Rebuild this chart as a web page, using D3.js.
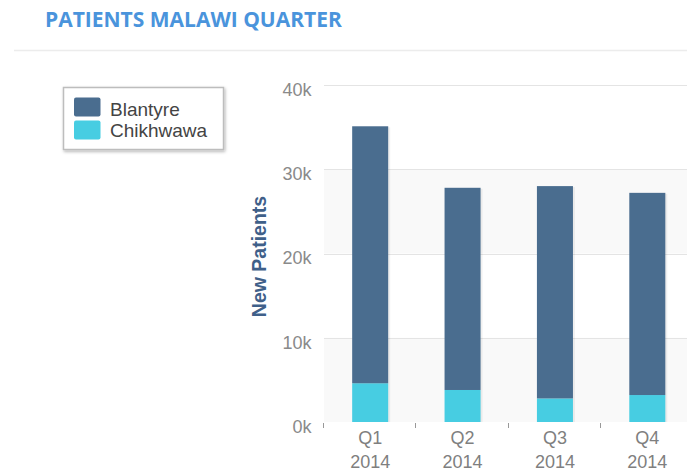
<!DOCTYPE html>
<html>
<head>
<meta charset="utf-8">
<script src="https://cdn.jsdelivr.net/npm/d3@7"></script>
<style>
  html, body { margin: 0; padding: 0; background: #fff; }
  svg { display: block; }
</style>
</head>
<body>
<svg id="chart" width="687" height="472"></svg>
<script>
// Quarterly new patients per district (stacked)
const quarters = ["Q1", "Q2", "Q3", "Q4"];
const years = ["2014", "2014", "2014", "2014"];
const seriesNames = ["Blantyre", "Chikhwawa"];
const blantyre = [30500, 24000, 25200, 24000];
const chikhwawa = [4600, 3800, 2800, 3200];
const yTicks = [0, 10000, 20000, 30000, 40000];
const colors = ["#4a6d8f", "#47cde2"];

const svg = d3.select("#chart");
const font = "'Helvetica Neue', Helvetica, Arial, 'Liberation Sans', sans-serif";

// Header
svg.append("text")
  .attr("x", 45).attr("y", 26.5)
  .attr("font-family", "'Open Sans', sans-serif")
  .attr("font-weight", 700)
  .attr("font-size", 21)
  .attr("fill", "#4a94dc")
  .text("PATIENTS MALAWI QUARTER");
svg.append("line")
  .attr("x1", 14).attr("x2", 687).attr("y1", 50.5).attr("y2", 50.5)
  .attr("stroke", "#ececec").attr("stroke-width", 1.5);

// Plot area
const plot = { left: 324, right: 693.5, top: 85, bottom: 422 };

const x = d3.scaleBand()
  .domain(quarters)
  .range([plot.left, plot.right])
  .paddingInner(0.61)
  .paddingOuter(0.305);

const y = d3.scaleLinear()
  .domain([0, 40000])
  .range([plot.bottom, plot.top]);

// Alternating horizontal bands
const g = svg.append("g");
for (let i = 0; i < yTicks.length - 1; i++) {
  if (i % 2 === 0) {
    g.append("rect")
      .attr("x", plot.left)
      .attr("width", 687 - plot.left)
      .attr("y", y(yTicks[i + 1]))
      .attr("height", y(yTicks[i]) - y(yTicks[i + 1]))
      .attr("fill", "#f9f9f9");
  }
}

// Grid lines
g.selectAll("line.grid")
  .data(yTicks.slice(1))
  .join("line")
  .attr("class", "grid")
  .attr("x1", plot.left).attr("x2", 687)
  .attr("y1", d => Math.round(y(d)) + 0.5)
  .attr("y2", d => Math.round(y(d)) + 0.5)
  .attr("stroke", "#e4e4e4");

// Y axis labels
const yAxis = d3.axisLeft(y)
  .tickValues(yTicks)
  .tickSize(0)
  .tickPadding(0)
  .tickFormat(d => (d / 1000) + "k");
const ya = svg.append("g")
  .attr("transform", `translate(${plot.left - 12.5},4)`)
  .call(yAxis);
ya.select(".domain").remove();
ya.selectAll("text")
  .attr("font-family", font)
  .attr("font-size", 18)
  .attr("fill", "#8a8a8a")
  .attr("dy", "0.35em");

// Y axis title
svg.append("text")
  .attr("transform", `translate(266,256.5) rotate(-90)`)
  .attr("text-anchor", "middle")
  .attr("font-family", font)
  .attr("font-weight", 700)
  .attr("font-size", 19.5)
  .attr("fill", "#3f6089")
  .text("New Patients");

// Stacked bars
const rows = quarters.map((q, i) => ({ q, Blantyre: blantyre[i], Chikhwawa: chikhwawa[i] }));
const stack = d3.stack().keys(["Chikhwawa", "Blantyre"])(rows);
const colorOf = { Blantyre: colors[0], Chikhwawa: colors[1] };

// soft shadow to the right of each bar
svg.append("g").selectAll("rect")
  .data(rows)
  .join("rect")
  .attr("x", d => x(d.q) + 2)
  .attr("width", x.bandwidth())
  .attr("y", d => y(d.Blantyre + d.Chikhwawa) + 1)
  .attr("height", d => plot.bottom - y(d.Blantyre + d.Chikhwawa) - 1)
  .attr("fill", "#000").attr("opacity", 0.06);

svg.append("g").selectAll("g")
  .data(stack)
  .join("g")
  .attr("fill", d => colorOf[d.key])
  .selectAll("rect")
  .data(d => d)
  .join("rect")
  .attr("x", d => x(d.data.q))
  .attr("width", x.bandwidth())
  .attr("y", d => y(d[1]))
  .attr("height", d => y(d[0]) - y(d[1]));

// X axis: baseline ticks at category boundaries and two-line labels
const step = x.step();
const boundaries = d3.range(quarters.length).map(i => plot.left + i * step);
svg.append("g").selectAll("line")
  .data(boundaries)
  .join("line")
  .attr("x1", d => Math.round(d) - 0.5).attr("x2", d => Math.round(d) - 0.5)
  .attr("y1", plot.bottom + 1).attr("y2", plot.bottom + 6)
  .attr("stroke", "#999");

const xl = svg.append("g").selectAll("text")
  .data(quarters)
  .join("text")
  .attr("x", d => x(d) + x.bandwidth() / 2)
  .attr("text-anchor", "middle")
  .attr("font-family", font)
  .attr("font-size", 18)
  .attr("fill", "#7f7f7f");
xl.append("tspan").attr("x", d => x(d) + x.bandwidth() / 2).attr("y", 443.5).text(d => d);
xl.append("tspan").attr("x", d => x(d) + x.bandwidth() / 2).attr("y", 467.5).text((d, i) => years[i]);

// Legend
const defs = svg.append("defs");
const f = defs.append("filter").attr("id", "lshadow").attr("x", "-10%").attr("y", "-10%").attr("width", "130%").attr("height", "140%");
f.append("feDropShadow").attr("dx", 1).attr("dy", 1.5).attr("stdDeviation", 1.5).attr("flood-color", "#000").attr("flood-opacity", 0.3);

const legend = svg.append("g");
legend.append("rect")
  .attr("x", 63.5).attr("y", 87.5).attr("width", 160).attr("height", 62)
  .attr("fill", "#fff").attr("stroke", "#bdbdbd").attr("stroke-width", 1.5)
  .attr("filter", "url(#lshadow)");
seriesNames.forEach((name, i) => {
  legend.append("rect")
    .attr("x", 74).attr("y", 97.5 + i * 23).attr("width", 26.5).attr("height", 19)
    .attr("rx", 2)
    .attr("fill", colors[i]);
  legend.append("text")
    .attr("x", 110).attr("y", 116 + i * 21)
    .attr("font-family", font)
    .attr("font-size", 19)
    .attr("fill", "#444")
    .text(name);
});
</script>
</body>
</html>
